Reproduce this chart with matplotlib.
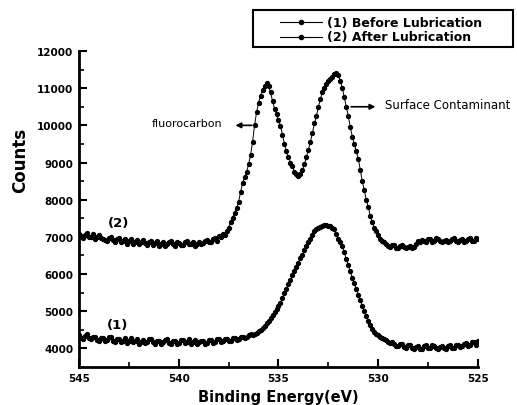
import numpy as np
import matplotlib
matplotlib.use("Agg")
import matplotlib.pyplot as plt
from matplotlib.ticker import MultipleLocator
from matplotlib.lines import Line2D
from matplotlib.patches import Rectangle

# Binding energy grid (eV), 545 -> 525 in 0.1 eV steps
energy = [round(545.0 - 0.1 * i, 1) for i in range(201)]

# (2) After Lubrication (counts), 545.0 -> 525.0
after = [
    7080, 7020, 6980, 7050, 7100, 6990, 7010, 7070, 6940, 6990,   # 545.0-544.1
    7060, 6980, 6950, 6920, 6890, 6970, 7000, 6910, 6870, 6930,   # 544.0-543.1
    6960, 6850, 6900, 6950, 6820, 6880, 6940, 6800, 6860, 6910,   # 543.0-542.1
    6800, 6850, 6910, 6830, 6780, 6850, 6880, 6790, 6830, 6900,   # 542.0-541.1
    6750, 6820, 6870, 6760, 6800, 6850, 6900, 6810, 6760, 6870,   # 541.0-540.1
    6840, 6770, 6790, 6850, 6880, 6800, 6810, 6860, 6750, 6820,   # 540.0-539.1
    6860, 6800, 6830, 6880, 6920, 6850, 6870, 6930, 6960, 6900,   # 539.0-538.1
    7020, 6990, 7080, 7060, 7150, 7250, 7400, 7520, 7650, 7780,   # 538.0-537.1
    7950, 8200, 8450, 8600, 8750, 8950, 9200, 9550, 10000, 10350,  # 537.0-536.1
    10600, 10800, 10950, 11050, 11150, 11050, 10900, 10650, 10450, 10300,  # 536.0-535.1
    10150, 9980, 9750, 9500, 9300, 9150, 9000, 8900, 8750, 8700,  # 535.0-534.1
    8650, 8700, 8800, 8950, 9150, 9350, 9550, 9800, 10050, 10250,  # 534.0-533.1
    10500, 10700, 10900, 11000, 11100, 11200, 11250, 11300, 11380, 11420,  # 533.0-532.1
    11350, 11200, 11000, 10750, 10500, 10250, 9950, 9700, 9500, 9300,  # 532.0-531.1
    9100, 8800, 8500, 8250, 8000, 7800, 7570, 7400, 7250, 7150,   # 531.0-530.1
    7050, 6950, 6900, 6850, 6800, 6760, 6720, 6780, 6790, 6700,   # 530.0-529.1
    6700, 6750, 6770, 6720, 6690, 6740, 6760, 6700, 6730, 6800,   # 529.0-528.1
    6880, 6850, 6920, 6900, 6850, 6930, 6950, 6870, 6880, 6960,   # 528.0-527.1
    6940, 6880, 6850, 6900, 6920, 6860, 6880, 6940, 6960, 6880,   # 527.0-526.1
    6870, 6910, 6930, 6870, 6890, 6950, 6960, 6880, 6900, 6970,   # 526.0-525.1
    6930,                                                         # 525.0
]

# (1) Before Lubrication (counts), 545.0 -> 525.0
before = [
    4350, 4290, 4260, 4330, 4380, 4270, 4240, 4300, 4310, 4220,   # 545.0-544.1
    4200, 4270, 4290, 4200, 4230, 4300, 4320, 4210, 4180, 4240,   # 544.0-543.1
    4260, 4170, 4200, 4280, 4150, 4210, 4270, 4160, 4190, 4250,   # 543.0-542.1
    4120, 4180, 4230, 4140, 4170, 4240, 4250, 4160, 4130, 4210,   # 542.0-541.1
    4200, 4130, 4160, 4230, 4240, 4150, 4120, 4200, 4190, 4120,   # 541.0-540.1
    4150, 4220, 4230, 4140, 4180, 4240, 4130, 4170, 4220, 4130,   # 540.0-539.1
    4160, 4210, 4200, 4130, 4140, 4220, 4230, 4150, 4170, 4240,   # 539.0-538.1
    4250, 4180, 4190, 4260, 4240, 4200, 4210, 4280, 4280, 4230,   # 538.0-537.1
    4240, 4300, 4310, 4290, 4300, 4360, 4380, 4360, 4400, 4420,   # 537.0-536.1
    4460, 4500, 4550, 4610, 4680, 4750, 4830, 4900, 4980, 5050,   # 536.0-535.1
    5130, 5230, 5350, 5480, 5600, 5720, 5850, 5970, 6080, 6190,   # 535.0-534.1
    6300, 6420, 6520, 6640, 6750, 6850, 6950, 7050, 7150, 7200,   # 534.0-533.1
    7230, 7270, 7300, 7330, 7320, 7300, 7280, 7250, 7200, 7080,   # 533.0-532.1
    6950, 6860, 6750, 6580, 6400, 6240, 6070, 5900, 5750, 5600,   # 532.0-531.1
    5450, 5300, 5150, 5010, 4880, 4750, 4620, 4530, 4450, 4400,   # 531.0-530.1
    4350, 4300, 4270, 4250, 4220, 4180, 4150, 4160, 4120, 4070,   # 530.0-529.1
    4060, 4120, 4110, 4040, 4020, 4090, 4080, 4000, 3980, 4050,   # 529.0-528.1
    4060, 3990, 3990, 4070, 4080, 4010, 4010, 4080, 4070, 4000,   # 528.0-527.1
    3980, 4050, 4060, 4000, 3990, 4060, 4100, 4020, 4010, 4080,   # 527.0-526.1
    4090, 4030, 4060, 4130, 4140, 4060, 4080, 4180, 4160, 4100,   # 526.0-525.1
    4210,                                                         # 525.0
]

series_labels = ["(1) Before Lubrication", "(2) After Lubrication"]
y_ticks = [4000, 5000, 6000, 7000, 8000, 9000, 10000, 11000, 12000]
x_ticks = [545, 540, 535, 530, 525]

W, H = 517, 406
fig = plt.figure(figsize=(W / 100, H / 100), dpi=100)
ax = fig.add_axes([79 / W, 1 - 368 / H, (478 - 79) / W, (368 - 52) / H])

style = dict(color="black", lw=0.7, marker="o", ms=2.8, mfc="black",
             mec="black")
l1, = ax.plot(energy, before, **style)
l2, = ax.plot(energy, after, **style)

ax.set_xlim(545, 525)
ax.set_ylim(3500, 12000)
ax.set_xticks(x_ticks)
ax.set_yticks(y_ticks)
ax.xaxis.set_minor_locator(MultipleLocator(2.5))
ax.yaxis.set_minor_locator(MultipleLocator(500))
ax.tick_params(which="major", direction="in", length=6, width=1.5,
               labelsize=7.5, pad=4)
ax.tick_params(which="minor", direction="in", length=3.5, width=1.2)
for lab in ax.get_xticklabels() + ax.get_yticklabels():
    lab.set_fontweight("bold")
for s in ["top", "right"]:
    ax.spines[s].set_visible(False)
for s in ["left", "bottom"]:
    ax.spines[s].set_linewidth(2)

ax.set_xlabel("Binding Energy(eV)", fontsize=10.5, fontweight="bold",
              labelpad=5)
fig.text(20 / W, 1 - 160 / H, "Counts", rotation=90, fontsize=12,
         fontweight="bold", ha="center", va="center")

# Legend box drawn in figure pixel coordinates
fig.patches.append(Rectangle((253 / W, 1 - 48 / H), (513 - 253) / W,
                             (48 - 11) / H, transform=fig.transFigure,
                             fill=False, edgecolor="black", lw=1.5))
for lbl, yy in zip(series_labels, [23, 38]):
    fig.lines.append(Line2D([280 / W, 322 / W], [1 - yy / H, 1 - yy / H],
                            transform=fig.transFigure, color="black", lw=0.8))
    fig.lines.append(Line2D([301 / W], [1 - yy / H], transform=fig.transFigure,
                            marker="o", ms=3, color="black", lw=0))
    fig.text(327 / W, 1 - yy / H, lbl, fontsize=9, fontweight="bold",
             ha="left", va="center")

ax.annotate("", xy=(537.3, 10000), xytext=(536.2, 10000),
            arrowprops=dict(arrowstyle="-|>", color="black", lw=1.2,
                            mutation_scale=8))
ax.text(537.8, 10050, "fluorocarbon", fontsize=8, ha="right", va="center")
ax.annotate("", xy=(530.0, 10500), xytext=(531.5, 10500),
            arrowprops=dict(arrowstyle="-|>", color="black", lw=1.2,
                            mutation_scale=8))
ax.text(529.65, 10560, "Surface Contaminant", fontsize=8.5, ha="left",
        va="center")
ax.text(543.0, 7400, "(2)", fontsize=9.5, fontweight="bold", ha="center",
        va="center")
ax.text(543.05, 4650, "(1)", fontsize=9.5, fontweight="bold", ha="center",
        va="center")

fig.savefig("out.png", dpi=100)
